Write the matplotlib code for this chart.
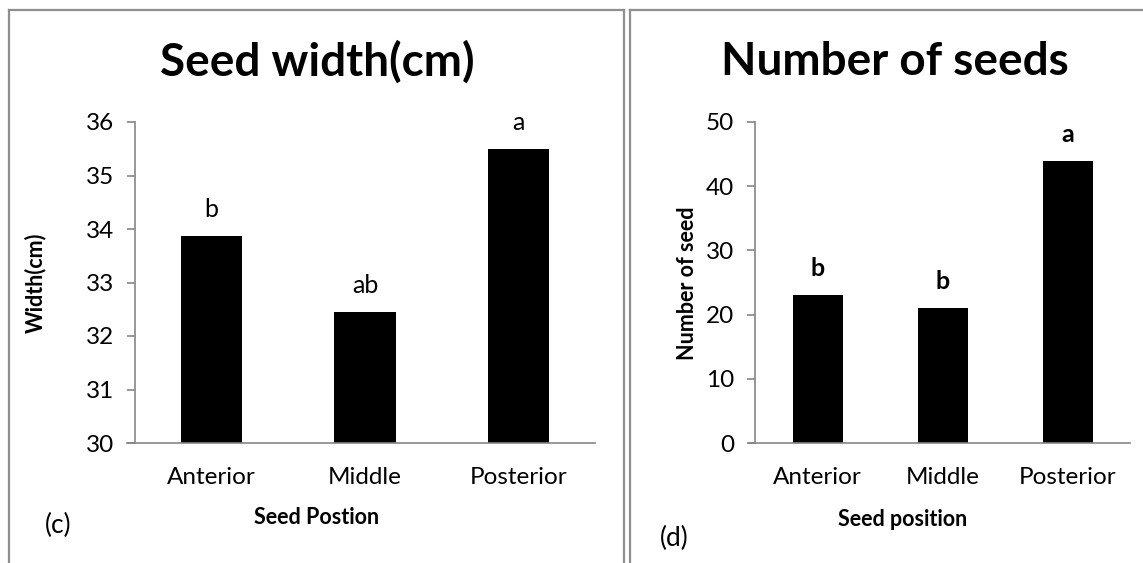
import matplotlib
matplotlib.use("Agg")
import matplotlib.pyplot as plt
from matplotlib.lines import Line2D

plt.rcParams['font.family'] = ['Lato', 'DejaVu Sans']

positions = ["Anterior", "Middle", "Posterior"]

width_values = [33.87, 32.45, 35.50]
width_letters = ["b", "ab", "a"]
width_ticks = [30, 31, 32, 33, 34, 35, 36]

seed_counts = [23, 21, 44]
seed_letters = ["b", "b", "a"]
seed_ticks = [0, 10, 20, 30, 40, 50]

W, H = 1143, 563
fig = plt.figure(figsize=(W / 100, H / 100), dpi=100)

def px_axes(x0, y0, x1, y1):
    return fig.add_axes([x0 / W, 1 - y1 / H, (x1 - x0) / W, (y1 - y0) / H])

AX_GRAY = "#868686"
TICK_FS = 17.5

def style(ax, ticks):
    for s in ("top", "right"):
        ax.spines[s].set_visible(False)
    for s in ("left", "bottom"):
        ax.spines[s].set_color(AX_GRAY)
        ax.spines[s].set_linewidth(1.2)
    ax.set_yticks(ticks)
    ax.set_ylim(ticks[0], ticks[-1])
    ax.tick_params(axis="y", length=6, width=1.2, color=AX_GRAY, labelsize=TICK_FS, pad=9)
    ax.tick_params(axis="x", length=0, labelsize=TICK_FS, pad=17)
    ax.set_xlim(-0.5, 2.5)
    ax.spines["bottom"].set_bounds(-0.55, 2.5)

# Panel (c): seed width
ax1 = px_axes(135, 122, 595, 443)
ax1.bar(range(3), width_values, width=0.4, color="black")
style(ax1, width_ticks)
ax1.set_xticks(range(3), positions)
for i, (v, t) in enumerate(zip(width_values, width_letters)):
    ax1.annotate(t, (i, v), xytext=(0, 19), textcoords="offset points",
                 ha="center", va="center", fontsize=18)

# Panel (d): number of seeds
ax2 = px_axes(755, 122, 1130, 443)
ax2.bar(range(3), seed_counts, width=0.4, color="black")
style(ax2, seed_ticks)
ax2.set_xticks(range(3), positions)
for i, (v, t) in enumerate(zip(seed_counts, seed_letters)):
    ax2.annotate(t, (i, v), xytext=(0, 19), textcoords="offset points",
                 ha="center", va="center", fontsize=18, fontweight="bold")

def ftext(x, y, s, **kw):
    fig.text(x / W, 1 - y / H, s, **kw)

ftext(317, 62, "Seed width(cm)", ha="center", va="center", fontsize=33, fontweight="bold")
ftext(895, 62, "Number of seeds", ha="center", va="center", fontsize=33, fontweight="bold")

ftext(35, 283, "Width(cm)", ha="center", va="center", rotation=90, fontsize=15.5, fontweight="bold")
ftext(688, 283, "Number of seed", ha="center", va="center", rotation=90, fontsize=15.5, fontweight="bold")

ftext(317, 518, "Seed Postion", ha="center", va="center", fontsize=15.5, fontweight="bold")
ftext(903, 520, "Seed position", ha="center", va="center", fontsize=15.5, fontweight="bold")

ftext(45, 525, "(c)", ha="left", va="center", fontsize=19)
ftext(660, 538, "(d)", ha="left", va="center", fontsize=19)

# Panel frames
BORDER = "#8f8f8f"
def fline(xs, ys):
    fig.add_artist(Line2D([x / W for x in xs], [1 - y / H for y in ys],
                          color=BORDER, linewidth=1.6, transform=fig.transFigure))

fline([9, 9], [10, H])
fline([9, 624], [10, 10])
fline([624, 624], [10, H])
fline([630, 630], [10, H])
fline([630, W], [10, 10])

fig.savefig("out.png", dpi=100)
